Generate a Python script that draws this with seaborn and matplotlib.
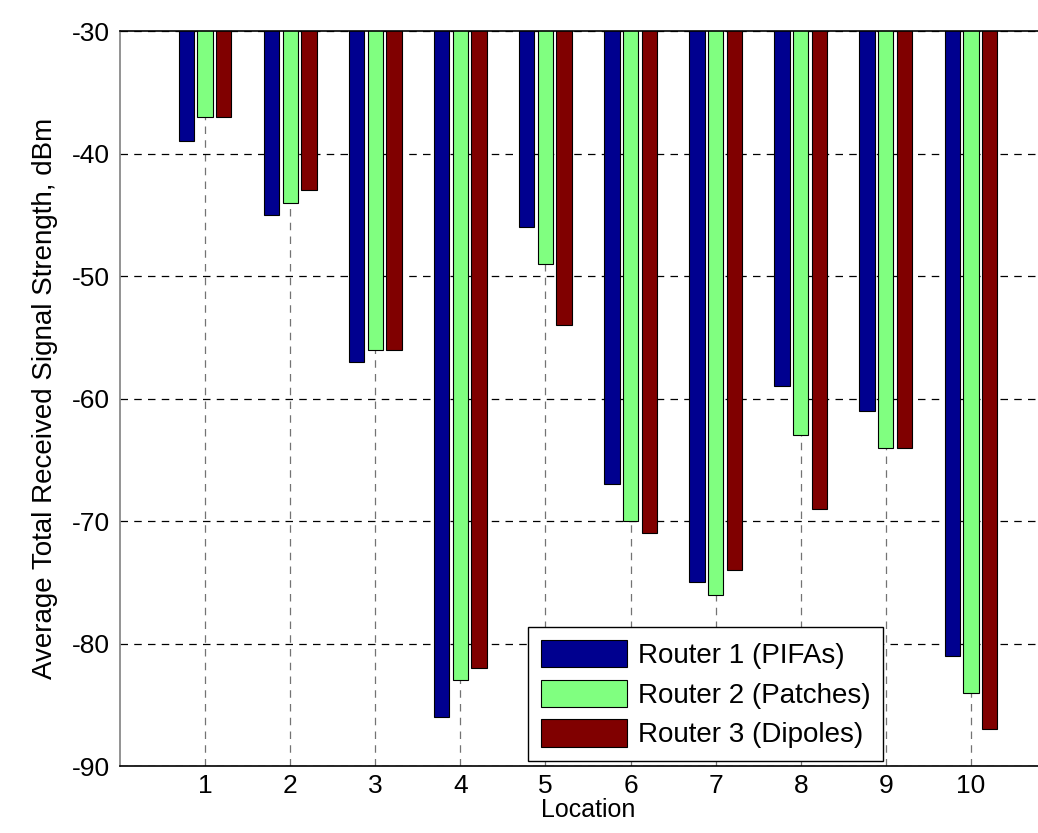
import pandas as pd
import matplotlib
matplotlib.use("Agg")
import matplotlib.pyplot as plt
import seaborn as sns

# data
locations = [1, 2, 3, 4, 5, 6, 7, 8, 9, 10]
router1 = [-39, -45, -57, -86, -46, -67, -75, -59, -61, -81]
router2 = [-37, -44, -56, -83, -49, -70, -76, -63, -64, -84]
router3 = [-37, -43, -56, -82, -54, -71, -74, -69, -64, -87]
series_names = ["Router 1 (PIFAs)", "Router 2 (Patches)", "Router 3 (Dipoles)"]
y_ticks = [-90, -80, -70, -60, -50, -40, -30]

# MATLAB-style jet colours for three series
colors = [(0, 0, 0.5625), (0.5, 1, 0.5), (0.5, 0, 0)]

df = pd.DataFrame({
    "Location": locations * 3,
    "RSS": router1 + router2 + router3,
    "Router": [n for n in series_names for _ in locations],
})

sns.set_style("white")
plt.rcParams["font.family"] = ["Liberation Sans", "DejaVu Sans"]
plt.rcParams["axes.unicode_minus"] = False
plt.rcParams["text.color"] = "black"
plt.rcParams["axes.labelcolor"] = "black"

fs = 20

fig = plt.figure(figsize=(10.38, 8.33), dpi=100)
# axes runs past the right edge, like the cropped original
ax = fig.add_axes([120/1038, 67/833, 936/1038, 735/833])

sns.barplot(
    data=df, x="Location", y="RSS", hue="Router", hue_order=series_names,
    palette=colors, saturation=1, native_scale=True, width=0.66, gap=0.18,
    edgecolor="black", linewidth=0.8, errorbar=None, ax=ax,
)

ax.set_xlim(0, 11)
ax.set_ylim(-90, -30)
ax.set_xticks(locations)
ax.set_yticks(y_ticks)
ax.tick_params(axis="both", direction="in", length=6, colors="black")
ax.tick_params(axis="x", pad=5.8, labelsize=19)
ax.tick_params(axis="y", pad=7, labelsize=19)

ax.set_axisbelow(True)
ax.yaxis.grid(True, color="black", linestyle=(0, (6, 5)), linewidth=0.9)
ax.xaxis.grid(True, color="0.45", linestyle=(0, (6, 5)), linewidth=0.9)

for side in ["top", "bottom"]:
    ax.spines[side].set_color("black")
    ax.spines[side].set_linewidth(1.2)
ax.spines["left"].set_color("0.5")
ax.spines["left"].set_linewidth(1.2)
ax.spines["right"].set_visible(False)

ax.set_xlabel("Location", fontsize=18, labelpad=0, color="black")
ax.set_ylabel("Average Total Received Signal Strength, dBm", fontsize=fs,
              labelpad=10, color="black")

leg = ax.legend(
    loc="lower left", bbox_to_anchor=(408/936, 5/735), fontsize=fs,
    frameon=True, fancybox=False, edgecolor="black", framealpha=1,
    handlelength=3.1, handleheight=1.15, labelspacing=0.38, borderpad=0.45,
    handletextpad=0.4, borderaxespad=0,
)
leg.get_frame().set_linewidth(1.0)
for t in leg.get_texts():
    t.set_color("black")

fig.savefig("out.png", dpi=100)
